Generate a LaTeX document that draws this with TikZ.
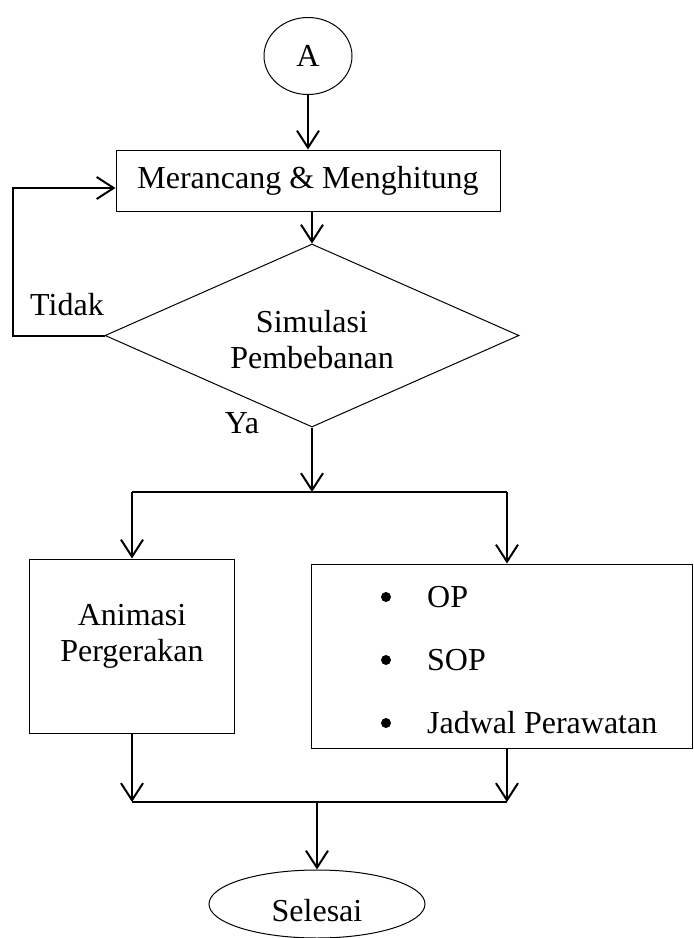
\documentclass[tikz,border=0pt]{standalone}
\usepackage{fontspec}
\setmainfont{Liberation Serif}
\usetikzlibrary{arrows.meta,shapes.geometric}
\begin{document}
\begin{tikzpicture}[x=1pt,y=-1pt,
  font=\fontsize{32}{36}\selectfont,
  box/.style={draw, line width=1pt, inner sep=0pt},
  lbl/.style={inner sep=0pt, align=center},
  dot/.style={circle, fill, inner sep=0pt, minimum size=10pt},
  wire/.style={line width=2pt},
  arr/.style={line width=2pt, -{Straight Barb[length=17pt,width=22pt,line width=2pt]}}]
\useasboundingbox (0,0) rectangle (694,938);

% process shapes
\node[ellipse, box, minimum width=88pt, minimum height=77pt] (start) at (308,56) {A};
\node[box, minimum width=384pt, minimum height=61pt] (design) at (308,180.5) {Merancang \& Menghitung};
\node[diamond, box, aspect=2.26, minimum width=414pt, minimum height=183pt] (sim) at (312,335.5) {};
\node[lbl] (simtext) at (312,340) {Simulasi\\Pembebanan};

\node[box, minimum width=205pt, minimum height=174pt] (anim) at (131.5,646) {};
\node[lbl] (animtext) at (132,636) {Animasi\\Pergerakan};

\node[box, minimum width=381pt, minimum height=184pt] (docs) at (501.5,656) {};
\node[dot] (b1) at (386,597) {};
\node[dot] (b2) at (386,660) {};
\node[dot] (b3) at (386,723) {};
\node[lbl, anchor=west] (t1) at (427,597) {OP};
\node[lbl, anchor=west] (t2) at (427,660) {SOP};
\node[lbl, anchor=west] (t3) at (427,723) {Jadwal Perawatan};

\node[ellipse, box, minimum width=216pt, minimum height=68pt] (end) at (317,904) {};
\node[lbl] (endtext) at (317,911) {Selesai};

% decision labels
\node[lbl] (no) at (67,305) {Tidak};
\node[lbl] (yes) at (242,423) {Ya};

% junction points
\coordinate (splitL) at (132,492);
\coordinate (splitR) at (507,492);
\coordinate (mergeL) at (132,802);
\coordinate (mergeR) at (507,802);

% connectors
\draw[arr] (start) -- (design);
\draw[arr] (design.south -| sim.north) -- (sim.north);
\draw[arr] (sim.west) -- ++(-92,0) |- ([yshift=-7.5pt]design.west);
\draw[arr] (sim.south) -- (sim.south |- splitL);
\draw[wire] (splitL) -- (splitR);
\draw[arr] (splitL) -- (splitL |- anim.north);
\draw[arr] (splitR) -- (splitR |- docs.north);
\draw[arr] (anim.south -| mergeL) -- (mergeL);
\draw[arr] (docs.south -| mergeR) -- (mergeR);
\draw[wire] (mergeL) -- (mergeR);
\draw[arr] (end.north |- mergeL) -- (end.north);
\end{tikzpicture}
\end{document}
